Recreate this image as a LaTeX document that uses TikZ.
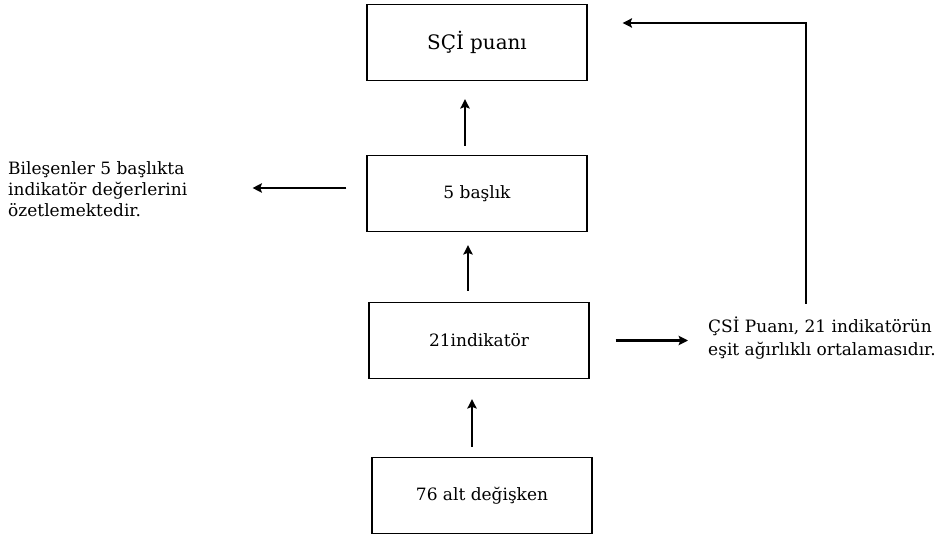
\documentclass[tikz,border=0pt]{standalone}
\usepackage{fontspec}
\setmainfont{DejaVu Serif}
\usetikzlibrary{arrows.meta, positioning, calc}
\tikzset{
  levelbox/.style={draw=black, line width=1.1pt, minimum width=6.6cm, minimum height=2.28cm,
                   font=\fontsize{14.5}{18}\selectfont, align=center, inner sep=0pt},
  notetext/.style={font=\fontsize{14.5}{18}\selectfont, align=left, inner sep=0pt},
  flowarrow/.style={-{Stealth[length=8pt, width=8pt, inset=1.5pt]}, line width=2pt, black},
}
\begin{document}
\begin{tikzpicture}
  \useasboundingbox (0, 0) rectangle (28.26, -16.14);

  \node[levelbox, font=\fontsize{17}{21}\selectfont] (P) at (14.31, -1.275) {SÇİ puanı};
  \node[levelbox] (B) at (14.31, -5.805) {5 başlık};
  \node[levelbox] (I) at (14.37, -10.215) {21indikatör};
  \node[levelbox] (D) at (14.46, -14.865) {76 alt değişken};

  \node[notetext, anchor=west] (L) at (0.24, -5.67) {Bileşenler 5 başlıkta\\indikatör değerlerini\\özetlemektedir.};
  \node[notetext, anchor=west, font=\fontsize{14.5}{19.5}\selectfont] (R) at (21.24, -10.15) {ÇSİ Puanı, 21 indikatörün\\eşit ağırlıklı ortalamasıdır.};

  \draw[flowarrow, shorten <=0.27cm, shorten >=0.54cm] ([xshift=-0.36cm]B.north) -- ([xshift=-0.36cm]B.north |- P.south);
  \draw[flowarrow, shorten <=0.33cm, shorten >=0.39cm] ([xshift=-0.33cm]I.north) -- ([xshift=-0.33cm]I.north |- B.south);
  \draw[flowarrow, shorten <=0.3cm, shorten >=0.6cm] ([xshift=-0.3cm]D.north) -- ([xshift=-0.3cm]D.north |- I.south);
  \draw[flowarrow, shorten <=0.6cm, shorten >=1.95cm] ([yshift=0.165cm]B.west) -- ([yshift=0.165cm]B.west -| L.east);
  \draw[flowarrow, shorten <=0.78cm, shorten >=0.6cm] (I.east) -- (I.east -| R.west);
  \draw[flowarrow, shorten <=0.4cm, shorten >=1.05cm] ([xshift=-0.48cm]R.north) |- ([yshift=0.585cm]P.east);
\end{tikzpicture}
\end{document}
